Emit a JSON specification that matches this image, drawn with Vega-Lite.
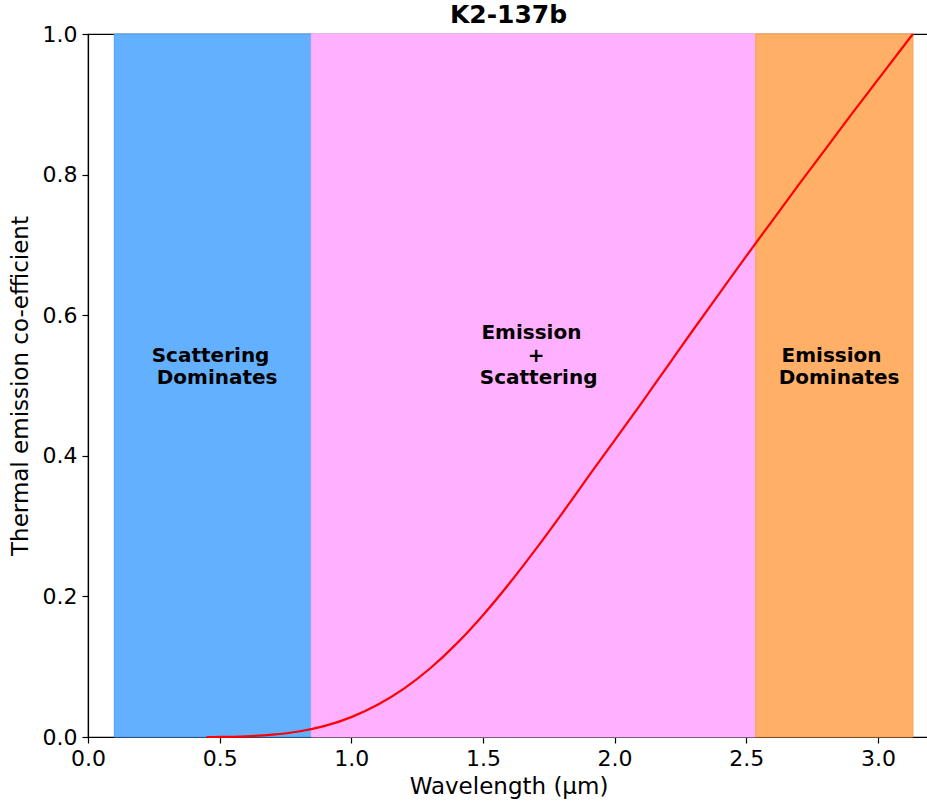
{
  "$schema": "https://vega.github.io/schema/vega-lite/v6.json",
  "autosize": {"type": "none"},
  "padding": {"left": 88, "top": 34, "right": 0, "bottom": 68},
  "width": 841,
  "height": 703,
  "background": "white",
  "title": {"text": "K2-137b", "font": "DejaVu Sans", "fontSize": 25, "fontWeight": "bold", "color": "black", "anchor": "middle", "offset": -5},
  "config": {
    "view": {"stroke": "black", "strokeWidth": 1.2},
    "axis": {"grid": false, "domainColor": "black", "tickColor": "black", "labelColor": "black", "titleColor": "black", "labelFont": "DejaVu Sans", "titleFont": "DejaVu Sans", "labelFontSize": 22, "titleFontSize": 23, "titleFontWeight": "normal", "tickSize": 6, "domainWidth": 1.2, "tickWidth": 1.2, "labelPadding": 5, "labelFlush": false, "labelOverlap": false}
  },
  "datasets": {
    "bands": [
      {"start": 0.1, "end": 0.848, "region": "scattering"},
      {"start": 0.848, "end": 2.536, "region": "mixed"},
      {"start": 2.536, "end": 3.133, "region": "emission"}
    ],
    "curve": [
      {"wavelength": 0.45, "coef": 0.0},
      {"wavelength": 0.5, "coef": 0.0001},
      {"wavelength": 0.6, "coef": 0.001},
      {"wavelength": 0.7, "coef": 0.0033},
      {"wavelength": 0.8, "coef": 0.0078},
      {"wavelength": 0.9, "coef": 0.0158},
      {"wavelength": 1.0, "coef": 0.0283},
      {"wavelength": 1.1, "coef": 0.0458},
      {"wavelength": 1.2, "coef": 0.0688},
      {"wavelength": 1.3, "coef": 0.0978},
      {"wavelength": 1.4, "coef": 0.1328},
      {"wavelength": 1.5, "coef": 0.1733},
      {"wavelength": 1.6, "coef": 0.2183},
      {"wavelength": 1.7, "coef": 0.2668},
      {"wavelength": 1.8, "coef": 0.3178},
      {"wavelength": 1.9, "coef": 0.3703},
      {"wavelength": 2.0, "coef": 0.422},
      {"wavelength": 2.1, "coef": 0.474},
      {"wavelength": 2.2, "coef": 0.527},
      {"wavelength": 2.3, "coef": 0.580},
      {"wavelength": 2.4, "coef": 0.632},
      {"wavelength": 2.5, "coef": 0.684},
      {"wavelength": 2.6, "coef": 0.735},
      {"wavelength": 2.7, "coef": 0.786},
      {"wavelength": 2.8, "coef": 0.836},
      {"wavelength": 2.9, "coef": 0.886},
      {"wavelength": 3.0, "coef": 0.935},
      {"wavelength": 3.1, "coef": 0.984},
      {"wavelength": 3.133, "coef": 1.0}
    ],
    "labels": [
      {"x": 0.242, "y": 0.5334, "label": "Scattering"},
      {"x": 0.261, "y": 0.502, "label": "Dominates"},
      {"x": 1.494, "y": 0.566, "label": "Emission"},
      {"x": 1.670, "y": 0.5334, "label": "+"},
      {"x": 1.488, "y": 0.502, "label": "Scattering"},
      {"x": 2.634, "y": 0.5334, "label": "Emission"},
      {"x": 2.623, "y": 0.502, "label": "Dominates"}
    ]
  },
  "layer": [
    {
      "data": {"name": "bands"},
      "mark": {"type": "rect", "strokeWidth": 1},
      "encoding": {
        "x": {"field": "start", "type": "quantitative", "scale": {"domain": [0, 3.194], "nice": false, "zero": false},
              "axis": {"title": "Wavelength (μm)", "values": [0, 0.5, 1, 1.5, 2, 2.5, 3], "format": ".1f", "titlePadding": 6}},
        "x2": {"field": "end"},
        "color": {"field": "region", "type": "nominal", "legend": null,
                  "scale": {"domain": ["scattering", "mixed", "emission"], "range": ["#63B0FF", "#FFB1FF", "#FFAF66"]}},
        "stroke": {"field": "region", "type": "nominal", "legend": null,
                   "scale": {"domain": ["scattering", "mixed", "emission"], "range": ["#4F9EF0", "#FFB1FF", "#F9A050"]}}
      }
    },
    {
      "data": {"name": "curve"},
      "mark": {"type": "line", "color": "#FF0000", "strokeWidth": 2.2, "interpolate": "monotone"},
      "encoding": {
        "x": {"field": "wavelength", "type": "quantitative"},
        "y": {"field": "coef", "type": "quantitative", "scale": {"domain": [0, 1], "nice": false},
              "axis": {"title": "Thermal emission co-efficient", "values": [0, 0.2, 0.4, 0.6, 0.8, 1.0], "format": ".1f", "titlePadding": 10}}
      }
    },
    {
      "data": {"name": "labels"},
      "mark": {"type": "text", "align": "left", "baseline": "alphabetic", "font": "DejaVu Sans", "fontWeight": "bold", "fontSize": 20, "color": "black"},
      "encoding": {
        "x": {"field": "x", "type": "quantitative"},
        "y": {"field": "y", "type": "quantitative"},
        "text": {"field": "label"}
      }
    }
  ]
}
